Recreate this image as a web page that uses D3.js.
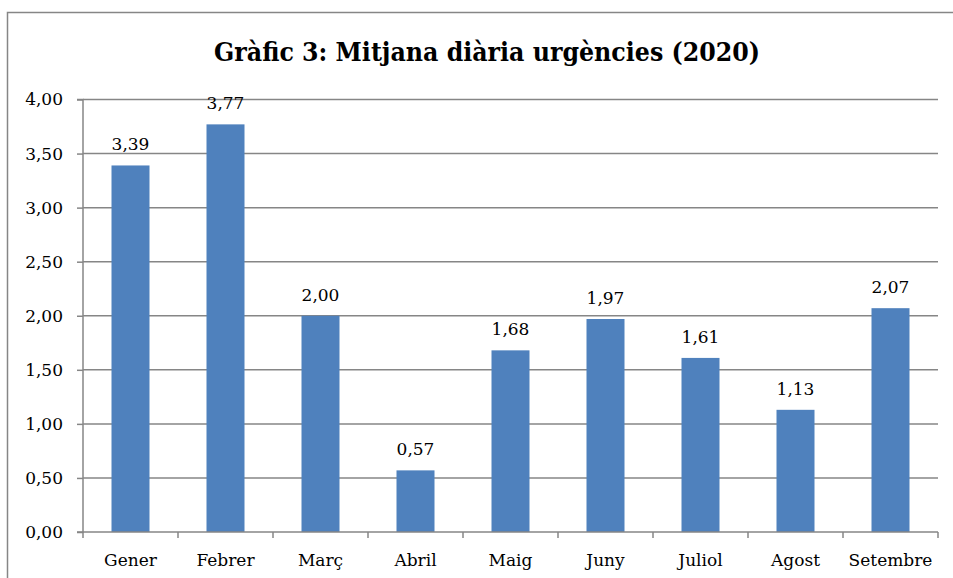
<!DOCTYPE html>
<html><head><meta charset="utf-8">
<script src="https://cdn.jsdelivr.net/npm/d3@7"></script>
<style>body{margin:0;background:#fff}svg{display:block}</style>
</head><body>
<script>
const categories = ["Gener","Febrer","Març","Abril","Maig","Juny","Juliol","Agost","Setembre"];
const values = [3.39,3.77,2.00,0.57,1.68,1.97,1.61,1.13,2.07];
const yTicks = [0,0.5,1,1.5,2,2.5,3,3.5,4];
const title = "Gràfic 3: Mitjana diària urgències (2020)";

const W = 953, H = 578;
const svg = d3.select("body").append("svg").attr("width", W).attr("height", H);
const font = "'DejaVu Serif', serif";
const fs = 17;
const fmt = v => d3.format(".2f")(v).replace(".", ",");

svg.append("rect").attr("x",7.5).attr("y",12.5).attr("width",W+20).attr("height",H+20)
  .attr("fill","none").attr("stroke","#868686").attr("stroke-width",1.5);

const pL = 83, pR = 938, pT = 99.5, pB = 532;
const x = d3.scaleBand().domain(categories).range([pL,pR]).paddingInner(0.6).paddingOuter(0.3);
const y = d3.scaleLinear().domain([0,4]).range([pB,pT]);

// gridlines
svg.append("g").selectAll("line").data(yTicks.filter(d=>d>0)).join("line")
  .attr("x1",pL).attr("x2",pR).attr("y1",d=>y(d)).attr("y2",d=>y(d))
  .attr("stroke","#868686").attr("stroke-width",1.5);

// bars
svg.append("g").selectAll("rect").data(values).join("rect")
  .attr("x",(d,i)=>x(categories[i])).attr("width",x.bandwidth())
  .attr("y",d=>y(d)).attr("height",d=>pB-y(d)).attr("fill","#4F81BD");

// y axis
const ya = svg.append("g").attr("transform",`translate(${pL},0)`)
  .call(d3.axisLeft(y).tickValues(yTicks).tickFormat(fmt).tickSize(6).tickPadding(14));
ya.select(".domain").attr("stroke","#868686").attr("stroke-width",1.5).attr("d",`M-6,${pT}H0V${pB}H-6`);
ya.selectAll(".tick line").attr("stroke","#868686").attr("stroke-width",1.5);
ya.selectAll("text").attr("font-family",font).attr("font-size",fs).attr("fill","#000");

// x axis
const xTickPos = d3.range(categories.length+1).map(i => pL + i*(pR-pL)/categories.length);
svg.append("line").attr("x1",pL).attr("x2",pR).attr("y1",pB).attr("y2",pB)
  .attr("stroke","#868686").attr("stroke-width",1.5);
svg.append("g").selectAll("line").data(xTickPos).join("line")
  .attr("x1",d=>d).attr("x2",d=>d).attr("y1",pB).attr("y2",pB+6)
  .attr("stroke","#868686").attr("stroke-width",1.5);
svg.append("g").selectAll("text").data(categories).join("text")
  .attr("x",d=>x(d)+x.bandwidth()/2).attr("y",566).attr("text-anchor","middle")
  .attr("font-family",font).attr("font-size",fs).text(d=>d);

// data labels
svg.append("g").selectAll("text").data(values).join("text")
  .attr("x",(d,i)=>x(categories[i])+x.bandwidth()/2).attr("y",d=>y(d)-15)
  .attr("text-anchor","middle").attr("font-family",font).attr("font-size",fs).text(fmt);

// title
const t = svg.append("text").attr("x",487).attr("y",61).attr("text-anchor","middle")
  .attr("font-family","'DejaVu Serif Condensed', 'DejaVu Serif', serif")
  .style("font-stretch","condensed")
  .attr("font-weight","bold").attr("font-size",26).text(title);
const tw = t.node().getComputedTextLength();
t.attr("font-size", Math.min(28, 26*546/tw));
</script>
</body></html>
